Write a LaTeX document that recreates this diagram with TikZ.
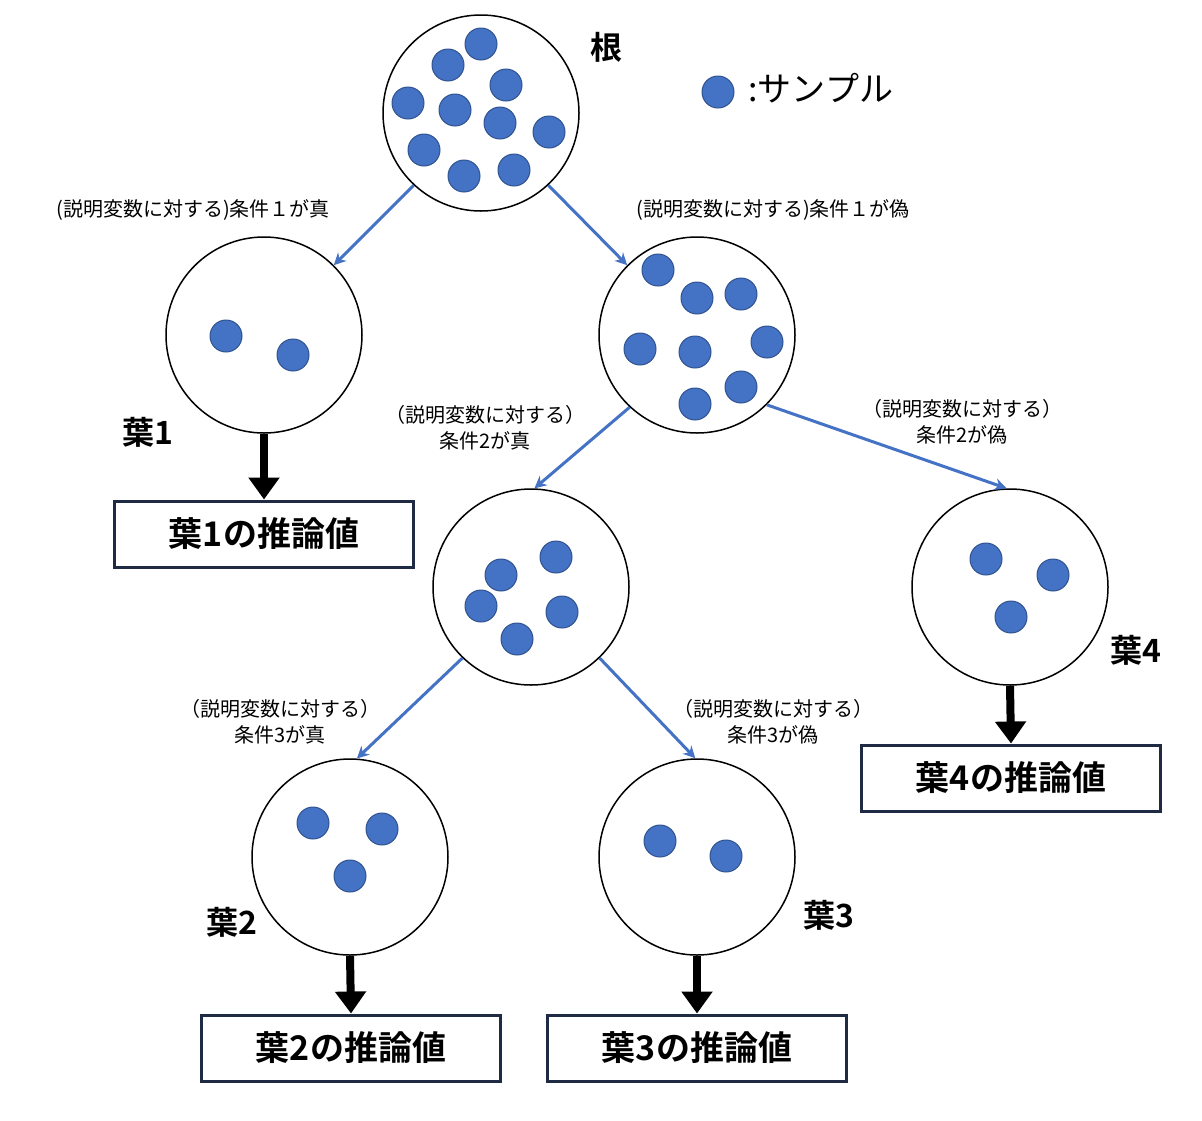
\documentclass[tikz,border=0pt]{standalone}
\usepackage{fontspec}
\setmainfont{Noto Sans CJK JP}[BoldFont={Noto Sans CJK JP Bold}]
\usetikzlibrary{arrows.meta}
\begin{document}
\begin{tikzpicture}[x=1pt,y=-1pt,
  big/.style={circle,draw=black,line width=1.5pt,minimum size=196pt,inner sep=0pt},
  dot/.style={circle,fill=dotblue,draw=dotdark,line width=1pt,minimum size=32pt,inner sep=0pt},
  edge/.style={draw=edgeblue,line width=3pt,-{Stealth[length=12pt,width=12pt]}},
  down/.style={line width=8pt,-{Triangle[length=22pt,width=30pt]}},
  box/.style={draw=boxnavy,line width=3pt,minimum width=299pt,minimum height=66pt,font=\fontsize{34}{40}\selectfont\bfseries},
  lbl/.style={font=\fontsize{20}{26}\selectfont,align=center},
  leaf/.style={font=\fontsize{32}{36}\selectfont\bfseries}]
\definecolor{dotblue}{HTML}{4472C4}
\definecolor{dotdark}{HTML}{2F528F}
\definecolor{edgeblue}{HTML}{4472C4}
\definecolor{boxnavy}{HTML}{1F2A44}
\useasboundingbox (0,0) rectangle (1202,1120);
\node[big] (R) at (481,113) {};
\node[big] (A) at (264,335) {};
\node[big] (B) at (697,335) {};
\node[big] (C) at (531,587) {};
\node[big] (L4) at (1010,587) {};
\node[big] (L2) at (350,857) {};
\node[big] (L3) at (697,857) {};
\foreach \p [count=\i] in {(481,44),(448,65),(506,85),(408,103),(455,110),(500,123),(549,132),(424,150),(464,176),(514,170),
  (226,336),(293,355),
  (658,270),(697,298),(741,294),(640,349),(695,352),(767,342),(741,387),(695,404),
  (556,557),(501,575),(481,606),(562,612),(517,639),
  (986,559),(1053,575),(1011,617),
  (313,823),(382,829),(350,876),
  (660,841),(726,856),(718,92)}
  \node[dot] (d\i) at \p {};
\node[anchor=west,font=\fontsize{34}{40}\selectfont] (legend) at (745,88) {:サンプル};
\node[leaf] (rootlbl) at (606,47) {根};
\draw[edge] (R.-133) -- (A.45);
\draw[edge] (R.-47) -- (B.135);
\draw[edge] (B.-133) -- (C.88);
\draw[edge] (B.-45) -- (L4.92);
\draw[edge] (C.-134) -- (L2.86);
\draw[edge] (C.-46) -- (L3.91);
\node[lbl] (e1) at (193,210) {(説明変数に対する)条件１が真};
\node[lbl] (e2) at (773,210) {(説明変数に対する)条件１が偽};
\node[lbl] (e3) at (485,428) {（説明変数に対する）\\条件2が真};
\node[lbl] (e4) at (962,422) {（説明変数に対する）\\条件2が偽};
\node[lbl] (e5) at (280,722) {（説明変数に対する）\\条件3が真};
\node[lbl] (e6) at (773,722) {（説明変数に対する）\\条件3が偽};
\node[leaf] (n1) at (148,432) {葉1};
\node[leaf] (n4) at (1136,650) {葉4};
\node[leaf] (n2) at (232,922) {葉2};
\node[leaf] (n3) at (829,915) {葉3};
\node[box] (b1) at (264,534) {葉1の推論値};
\node[box] (b4) at (1011,778) {葉4の推論値};
\node[box] (b2) at (351,1048) {葉2の推論値};
\node[box] (b3) at (697,1048) {葉3の推論値};
\draw[down] (A.south) -- (b1.north);
\draw[down] (L4.south) -- (b4.north);
\draw[down] (L2.south) -- (b2.north);
\draw[down] (L3.south) -- (b3.north);
\end{tikzpicture}
\end{document}
